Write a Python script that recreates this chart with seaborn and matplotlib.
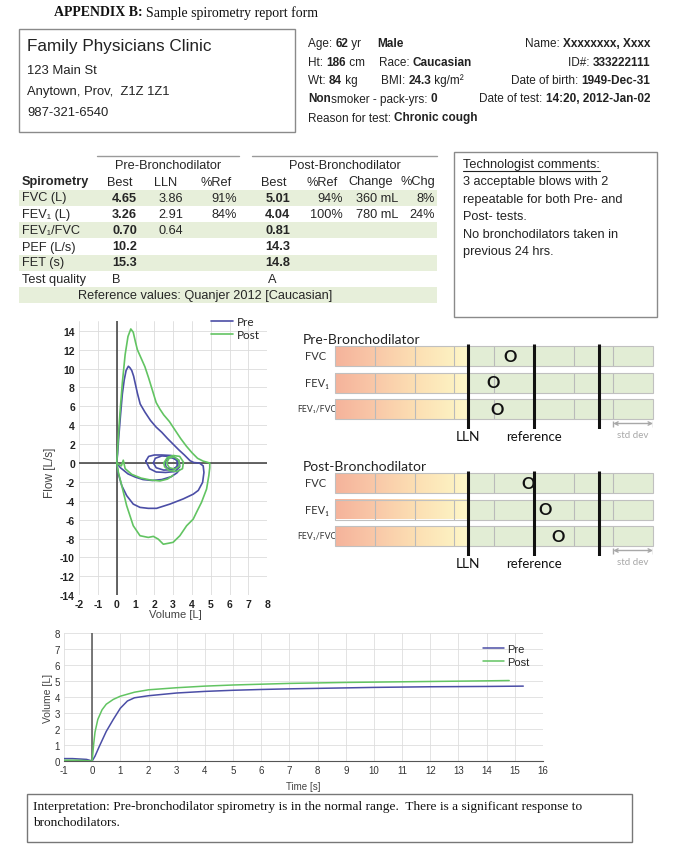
import numpy as np
import pandas as pd
import matplotlib
matplotlib.use("Agg")
import matplotlib.pyplot as plt
from matplotlib.colors import LinearSegmentedColormap
from matplotlib.lines import Line2D
from matplotlib.patches import Rectangle
import seaborn as sns

# ---------------- data ----------------
# flow-volume loop, pre (expiration then inspiration back to 0)
pre_loop_vol = [0.0, 0.05, 0.1, 0.2, 0.3, 0.4, 0.5, 0.62, 0.7, 0.8, 0.9, 1.0, 1.1, 1.25, 1.5, 1.8,
                2.1, 2.4, 2.7, 3.0, 3.3, 3.6, 3.9, 4.1, 4.4, 4.6,
                4.64, 4.57, 4.34, 4.07, 3.54, 2.83, 2.12, 1.68, 1.24, 0.88, 0.53, 0.27, 0.09, 0.0]
pre_loop_flow = [0.0, 1.0, 2.5, 5.0, 7.3, 8.8, 9.8, 10.25, 10.1, 9.8, 9.2, 8.3, 7.4, 6.25, 5.4, 4.5,
                 3.8, 3.25, 2.6, 2.0, 1.4, 0.85, 0.25, 0.05, 0.0, -0.3,
                 -1.0, -2.05, -2.9, -3.3, -3.8, -4.35, -4.8, -4.8, -4.7, -4.35, -3.45, -2.4, -1.17, 0.0]
post_loop_vol = [0.0, 0.05, 0.1, 0.2, 0.3, 0.45, 0.6, 0.75, 0.88, 1.0, 1.1, 1.3, 1.5, 1.7, 1.9, 2.1,
                 2.3, 2.5, 2.8, 3.1, 3.4, 3.7, 4.0, 4.3, 4.6, 4.95,
                 4.95, 4.9, 4.78, 4.51, 4.3, 4.07, 3.72, 3.36, 3.0, 2.75, 2.48, 2.21, 1.95, 1.68,
                 1.24, 0.88, 0.53, 0.27, 0.09, 0.0]
post_loop_flow = [0.0, 1.5, 3.2, 6.0, 8.5, 11.5, 13.4, 14.2, 13.85, 12.8, 12.0, 11.1, 10.2, 9.0, 7.7, 6.4,
                  5.7, 5.1, 4.4, 3.5, 2.6, 1.8, 1.1, 0.5, 0.2, 0.0,
                  -0.5, -1.34, -2.76, -4.17, -5.0, -5.94, -6.64, -7.7, -8.4, -8.5, -8.6, -8.06, -7.77, -7.88,
                  -7.7, -6.64, -4.52, -2.4, -1.0, 0.0]
# tidal breathing before the manoeuvre
pre_tail_vol = [0.0, 0.2, 0.6, 1.0, 1.4, 1.9, 2.4, 2.9, 3.2, 3.35]
pre_tail_flow = [0.0, -0.5, -1.15, -1.5, -1.75, -1.85, -1.75, -1.45, -1.05, -0.7]
post_tail_vol = [0.0, 0.25, 0.35, 0.45, 0.8, 1.3, 1.8, 2.3, 2.7, 3.0]
post_tail_flow = [0.0, -0.3, 0.3, -0.6, -1.2, -1.6, -1.8, -1.9, -1.7, -1.3]
pre_tidal1_vol = [1.55, 1.7, 2.0, 2.4, 2.9, 3.3, 3.35, 3.1, 2.6, 2.1, 1.75, 1.55]
pre_tidal1_flow = [0.2, 0.7, 0.85, 0.85, 0.8, 0.3, -0.4, -0.9, -1.0, -0.95, -0.6, 0.2]
pre_tidal2_vol = [1.95, 2.05, 2.4, 2.8, 3.2, 3.25, 3.0, 2.5, 2.1, 1.95]
pre_tidal2_flow = [0.0, 0.5, 0.75, 0.7, 0.3, -0.3, -0.7, -0.75, -0.5, 0.0]
pre_tidal3_vol = [2.55, 2.7, 3.0, 3.25, 3.2, 2.95, 2.65, 2.55]
pre_tidal3_flow = [0.0, 0.5, 0.6, 0.2, -0.4, -0.7, -0.5, 0.0]
post_tidal1_vol = [2.5, 2.7, 3.0, 3.35, 3.55, 3.5, 3.2, 2.8, 2.55, 2.5]
post_tidal1_flow = [0.0, 0.6, 0.8, 0.7, 0.1, -0.6, -0.9, -0.8, -0.4, 0.0]
post_tidal2_vol = [2.65, 2.8, 3.05, 3.3, 3.35, 3.1, 2.8, 2.65]
post_tidal2_flow = [0.0, 0.55, 0.65, 0.3, -0.3, -0.65, -0.5, 0.0]

# volume-time curves
pre_vt_time = [-1.0, -0.7, -0.4, -0.2, 0.0, 0.1, 0.25, 0.5, 0.75, 1.0, 1.25, 1.5, 2.0, 3.0, 4.0,
               5.0, 6.0, 7.0, 8.0, 9.0, 10.0, 11.0, 12.0, 13.0, 14.0, 15.3]
pre_vt_vol = [0.15, 0.15, 0.12, 0.1, 0.0, 0.3, 0.9, 1.85, 2.6, 3.3, 3.75, 3.95, 4.08, 4.25, 4.35,
              4.42, 4.47, 4.51, 4.54, 4.57, 4.6, 4.62, 4.64, 4.65, 4.66, 4.68]
post_vt_time = [-1.0, -0.6, -0.3, 0.0, 0.05, 0.1, 0.2, 0.35, 0.5, 0.75, 1.0, 1.5, 2.0, 3.0, 4.0,
                5.0, 6.0, 7.0, 8.0, 9.0, 10.0, 11.0, 12.0, 13.0, 14.0, 14.8]
post_vt_vol = [0.05, 0.05, 0.03, 0.0, 1.0, 1.8, 2.6, 3.2, 3.55, 3.85, 4.05, 4.3, 4.45, 4.58, 4.68,
               4.75, 4.8, 4.85, 4.88, 4.91, 4.93, 4.95, 4.97, 4.99, 5.01, 5.03]

# z-scores
z_labels = ["FVC", "FEV₁", "FEV₁/FVC"]
z_pre = [-0.6, -1.02, -0.93]
z_post = [-0.15, 0.28, 0.62]
z_lln = -1.645

# table
tbl_rows = ["FVC (L)", "FEV₁ (L)", "FEV₁/FVC", "PEF (L/s)", "FET (s)", "Test quality"]
pre_best = ["4.65", "3.26", "0.70", "10.2", "15.3", ""]
pre_lln = ["3.86", "2.91", "0.64", "", "", ""]
pre_pref = ["91%", "84%", "", "", "", ""]
post_best = ["5.01", "4.04", "0.81", "14.3", "14.8", ""]
post_pref = ["94%", "100%", "", "", "", ""]
post_change = ["360 mL", "780 mL", "", "", "", ""]
post_pchg = ["8%", "24%", "", "", "", ""]
quality = ["B", "A"]

# ---------------- figure ----------------
sns.set_style("white")
SANS = ["Liberation Sans", "DejaVu Sans"]
SERIF = ["Liberation Serif", "DejaVu Serif"]
CAL = ["Lato", "DejaVu Sans"]
plt.rcParams["font.family"] = SANS
plt.rcParams["axes.unicode_minus"] = False

PRE_C = "#4b4ea6"
POST_C = "#62c462"
W, H = 677, 845
fig = plt.figure(figsize=(W / 100, H / 100), dpi=100)
renderer = fig.canvas.get_renderer()


def px_axes(left, top, right, bottom):
    return fig.add_axes([left / W, 1 - bottom / H, (right - left) / W, (bottom - top) / H])


bg = px_axes(0, 0, W, H)
bg.set_xlim(0, W)
bg.set_ylim(H, 0)
bg.axis("off")


def rich(x, y, parts, size, ha="left", family=SANS, color="#222"):
    # parts: (text, bold) pieces written one after another
    seq = parts if ha == "left" else parts[::-1]
    cur = x
    for s, b in seq:
        t = bg.text(cur, y, s, fontsize=size, fontweight="bold" if b else "normal",
                    ha=ha, va="center", family=family, color=color)
        w = t.get_window_extent(renderer).width
        cur = cur + w if ha == "left" else cur - w


# header
rich(54, 13, [("APPENDIX B: ", True), ("Sample spirometry report form", False)], 10, family=SERIF, color="#111")
bg.add_patch(Rectangle((19, 30), 276, 103, fill=False, ec="#8a8a8a", lw=1))
bg.text(27, 47, "Family Physicians Clinic", fontsize=12.3, va="center", color="#222")
for yy, s in zip([71, 92, 113], ["123 Main St", "Anytown, Prov,  Z1Z 1Z1", "987-321-6540"]):
    bg.text(27, yy, s, fontsize=9.4, va="center", color="#222")

fs = 8.5
rich(308, 44, [("Age: ", False), ("62", True), (" yr", False)], fs)
rich(377, 44, [("Male", True)], fs)
rich(650, 44, [("Name: ", False), ("Xxxxxxxx, Xxxx", True)], fs, ha="right")
rich(308, 62.5, [("Ht: ", False), ("186", True), (" cm", False)], fs)
rich(379, 62.5, [("Race: ", False), ("Caucasian", True)], fs)
rich(650, 62.5, [("ID#: ", False), ("333222111", True)], fs, ha="right")
rich(308, 81, [("Wt: ", False), ("84", True), (" kg", False)], fs)
rich(381, 81, [("BMI: ", False), ("24.3", True), (" kg/m²", False)], fs)
rich(650, 81, [("Date of birth: ", False), ("1949-Dec-31", True)], fs, ha="right")
rich(308, 99.5, [("Non", True), ("smoker - pack-yrs: ", False), ("0", True)], fs)
rich(650, 99.5, [("Date of test: ", False), ("14:20, 2012-Jan-02", True)], fs, ha="right")
rich(308, 118.5, [("Reason for test: ", False), ("Chronic cough", True)], fs)

# spirometry table
tfs = 9.2
row_y = [198.5, 215, 231, 247.5, 263.5, 280]
for y0 in [190.7, 223, 256, 288]:
    bg.add_patch(Rectangle((19, y0), 418, 16, color="#e7efda", lw=0))
bg.plot([97, 239], [157, 157], color="#9a9a9a", lw=1)
bg.plot([252, 437], [157, 157], color="#9a9a9a", lw=1)
bg.text(168, 166, "Pre-Bronchodilator", fontsize=tfs, ha="center", va="center")
bg.text(344.5, 166, "Post-Bronchodilator", fontsize=tfs, ha="center", va="center")
bg.text(22, 182.5, "Spirometry", fontsize=tfs, fontweight="bold", va="center")
for x, s in zip([132, 177, 232, 287, 338, 393, 435], ["Best", "LLN", "%Ref", "Best", "%Ref", "Change", "%Chg"]):
    bg.text(x, 182.5, s, fontsize=tfs, ha="right", va="center")
cols = [(137, pre_best, True), (183, pre_lln, False), (237, pre_pref, False), (290, post_best, True),
        (343, post_pref, False), (398, post_change, False), (435, post_pchg, False)]
for i, lab in enumerate(tbl_rows):
    bg.text(22, row_y[i], lab, fontsize=tfs, va="center", family=SANS)
    for x, vals, b in cols:
        if vals[i]:
            bg.text(x, row_y[i], vals[i], fontsize=tfs, ha="right", va="center",
                    fontweight="bold" if b else "normal")
bg.text(112, row_y[5], quality[0], fontsize=tfs, va="center")
bg.text(268, row_y[5], quality[1], fontsize=tfs, va="center")
bg.text(205, 296, "Reference values: Quanjer 2012 [Caucasian]", fontsize=tfs, ha="center", va="center")

# technologist box
bg.add_patch(Rectangle((454, 153), 203, 165, fill=False, ec="#8a8a8a", lw=1))
tech = ["Technologist comments:", "3 acceptable blows with 2", "repeatable for both Pre- and",
        "Post- tests.", "No bronchodilators taken in", "previous 24 hrs."]
for i, s in enumerate(tech):
    t = bg.text(463, 165 + i * 17.4, s, fontsize=tfs, va="center", color="#222")
    if i == 0:
        w = t.get_window_extent(renderer).width
        bg.plot([463, 463 + w], [171.5, 171.5], color="#222", lw=0.8)

# ---------------- flow-volume ----------------
ax = px_axes(79.1, 322.4, 267.1, 596.2)
segs = []
for name, v, f in [("loop", pre_loop_vol, pre_loop_flow), ("tail", pre_tail_vol, pre_tail_flow),
                   ("t1", pre_tidal1_vol, pre_tidal1_flow), ("t2", pre_tidal2_vol, pre_tidal2_flow),
                   ("t3", pre_tidal3_vol, pre_tidal3_flow)]:
    segs.append(pd.DataFrame({"vol": v, "flow": f, "seg": name, "test": "Pre"}))
for name, v, f in [("loop", post_loop_vol, post_loop_flow), ("tail", post_tail_vol, post_tail_flow),
                   ("t1", post_tidal1_vol, post_tidal1_flow), ("t2", post_tidal2_vol, post_tidal2_flow)]:
    segs.append(pd.DataFrame({"vol": v, "flow": f, "seg": name, "test": "Post"}))
fv = pd.concat(segs, ignore_index=True)
fv["unit"] = fv["test"] + fv["seg"]
for test, c in [("Pre", PRE_C), ("Post", POST_C)]:
    sns.lineplot(data=fv[fv["test"] == test], x="vol", y="flow", units="unit", estimator=None,
                 sort=False, color=c, lw=1.2, ax=ax, legend=False)
ax.set_xlim(-2, 8)
ax.set_ylim(-14, 15)
ax.set_xticks(range(-2, 9))
ax.set_yticks(range(-14, 15, 2))
ax.grid(True, color="#dcdcdc", lw=0.6)
ax.axhline(0, color="#3a3a3a", lw=1.1, zorder=1)
ax.axvline(0, color="#3a3a3a", lw=1.1, zorder=1)
for s in ax.spines.values():
    s.set_visible(False)
ax.patch.set_visible(False)
ax.tick_params(length=0, labelsize=7.5, pad=3, colors="#222")
for lb in ax.get_xticklabels() + ax.get_yticklabels():
    lb.set_fontweight("bold")
ax.set_xlabel("Volume [L]", fontsize=8, color="#444")
ax.set_ylabel("Flow [L/s]", fontsize=8.5, color="#444")
ax.xaxis.set_label_coords((175 - 79.1) / 188, -0.05)
ax.yaxis.set_label_coords(-0.125, 0.449)
ax.legend(handles=[Line2D([], [], color=PRE_C, lw=1.2), Line2D([], [], color=POST_C, lw=1.2)],
          labels=["Pre", "Post"], loc="upper left", bbox_to_anchor=(211 / W, 1 - 317 / H),
          bbox_transform=fig.transFigure, frameon=False, handlelength=1.9,
          handletextpad=0.3, labelspacing=0.15, borderpad=0, borderaxespad=0, prop={"family": CAL, "size": 8.5})

# ---------------- z-score panels ----------------
zcmap = LinearSegmentedColormap.from_list(
    "z", [(0, "#f5b39b"), (0.3, "#f9c8a8"), (0.6, "#fcdfb3"), (0.88, "#fdf0c1"), (1.0, "#fef8cb")])
grad = np.linspace(0, 1, 256).reshape(1, -1)


def z_panel(row0, title, zvals):
    zx = px_axes(335, row0 - 12, 653, row0 + 73)
    for i in range(len(z_labels)):
        yc = i * 26.5
        zx.imshow(grad, cmap=zcmap, extent=(-5, z_lln, yc + 10, yc - 10), aspect="auto", zorder=1)
        zx.add_patch(Rectangle((z_lln, yc - 10), 3 - z_lln, 20, color="#e2edd5", lw=0, zorder=1))
        zx.vlines(range(-4, 3), yc - 10, yc + 10, color="#bababa", lw=0.8, zorder=2)
        zx.add_patch(Rectangle((-5, yc - 10), 8, 20, fill=False, ec="#c0c0c0", lw=0.8, zorder=3, clip_on=False))
        bg.text(305 if i < 2 else 297, row0 + yc, z_labels[i], fontsize=8 if i < 2 else 6.3,
                va="center", family=CAL, color="#333")
        zx.text(zvals[i], yc, "O", fontsize=12, fontweight="bold", ha="center", va="center",
                family=CAL, color="#111", zorder=5)
    zx.vlines([z_lln, 0, -z_lln], -12, 73, color="#111", lw=2.2, zorder=4)
    zx.set_xlim(-5, 3)
    zx.set_ylim(73, -12)
    zx.axis("off")
    zx.annotate("", xy=(3, 67.5), xytext=(2, 67.5), annotation_clip=False,
                arrowprops=dict(arrowstyle="<->", color="#a8a8a8", lw=1, mutation_scale=6, shrinkA=0, shrinkB=0))
    zx.vlines([2, 3], 64.5, 70.5, color="#a8a8a8", lw=1)
    zx.text(z_lln, 80, "LLN", fontsize=10, ha="center", va="center", family=CAL, color="#111")
    zx.text(0, 80, "reference", fontsize=9.5, ha="center", va="center", family=CAL, color="#111")
    zx.text(2.5, 79, "std dev", fontsize=7, ha="center", va="center", family=CAL, color="#a8a8a8")
    bg.text(303, row0 - 17, title, fontsize=10, va="center", family=CAL, color="#222")


z_panel(357, "Pre-Bronchodilator", z_pre)
z_panel(484, "Post-Bronchodilator", z_post)

# ---------------- volume-time ----------------
vx = px_axes(64, 634, 543, 762)
vt = pd.concat([pd.DataFrame({"time": pre_vt_time, "vol": pre_vt_vol, "test": "Pre"}),
                pd.DataFrame({"time": post_vt_time, "vol": post_vt_vol, "test": "Post"})], ignore_index=True)
sns.lineplot(data=vt, x="time", y="vol", hue="test", palette={"Pre": PRE_C, "Post": POST_C},
             sort=False, estimator=None, lw=1.1, ax=vx)
vx.set_xlim(-1, 16)
vx.set_ylim(0, 8)
vx.set_xticks(range(-1, 17))
vx.set_yticks(range(0, 9))
vx.grid(True, color="#dedede", lw=0.6)
vx.axvline(0, color="#555", lw=1.1, zorder=1)
for k, s in vx.spines.items():
    s.set_visible(k == "bottom")
vx.spines["bottom"].set_color("#555")
vx.patch.set_visible(False)
vx.tick_params(length=0, labelsize=7, pad=3, colors="#333")
vx.set_xlabel("Time [s]", fontsize=7, color="#444")
vx.set_ylabel("Volume [L]", fontsize=7.5, color="#444")
vx.xaxis.set_label_coords(0.5, -0.16)
vx.yaxis.set_label_coords(-0.024, 0.5)
vx.legend(handles=[Line2D([], [], color=PRE_C, lw=1.1), Line2D([], [], color=POST_C, lw=1.1)],
          labels=["Pre", "Post"], loc="upper left", bbox_to_anchor=(483 / W, 1 - 645 / H),
          bbox_transform=fig.transFigure, frameon=False, handlelength=1.9, handletextpad=0.3,
          labelspacing=0.25, borderpad=0, borderaxespad=0, prop={"family": SANS, "size": 8})

# interpretation
bg.add_patch(Rectangle((27, 795), 605, 48, fill=False, ec="#777", lw=1))
bg.text(33, 807.5, "Interpretation: Pre-bronchodilator spirometry is in the normal range.  There is a significant response to",
        fontsize=9.6, family=SERIF, va="center", color="#111")
bg.text(33, 823, "bronchodilators.", fontsize=9.6, family=SERIF, va="center", color="#111")

fig.savefig("out.png", dpi=100)
